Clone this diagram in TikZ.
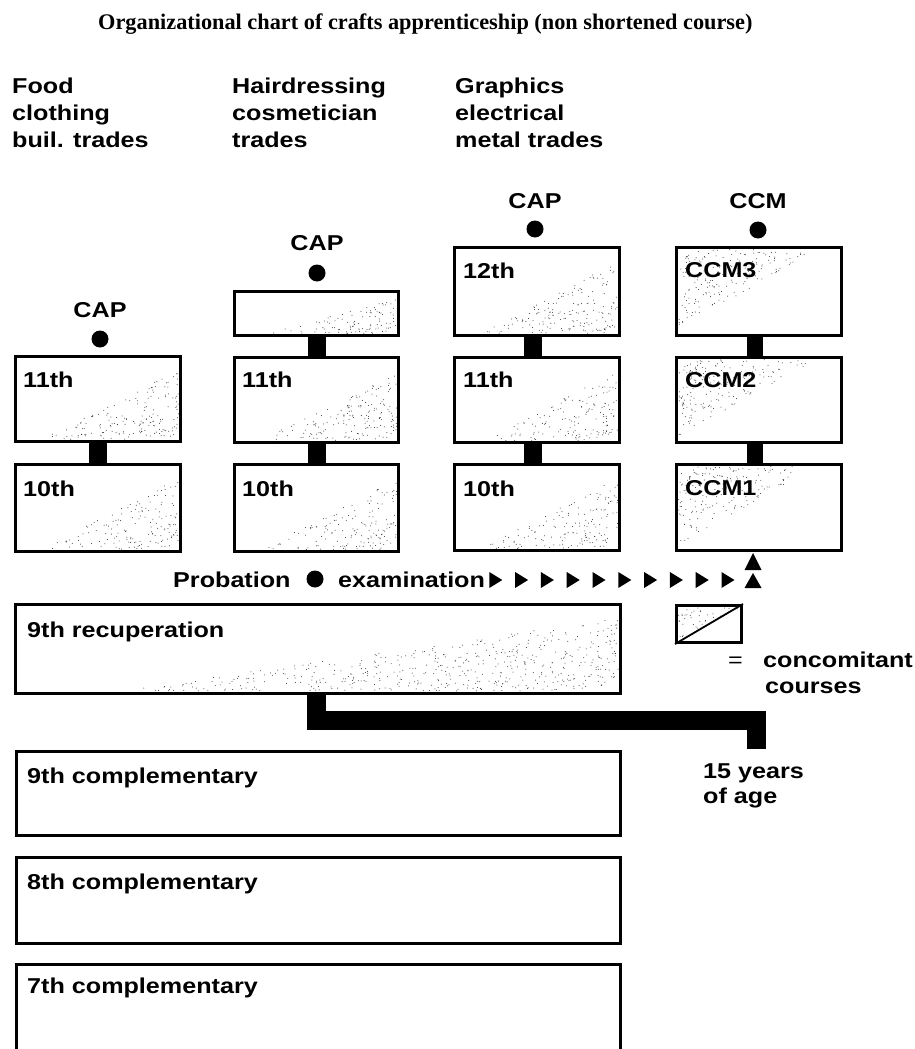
\documentclass[tikz,border=0pt]{standalone}
\usepackage{fontspec}
\setmainfont{Liberation Sans}[FakeStretch=1.17]
\newfontfamily\tmfont{Liberation Serif}
\tikzset{
  box/.style={draw, line width=2.8pt, inner sep=0pt, rectangle},
  bar/.style={draw, line width=18pt, line cap=butt, line join=miter},
  lbl/.style={font=\fontsize{21.5}{26}\selectfont\bfseries, inner sep=0pt, anchor=base west},
  clbl/.style={font=\fontsize{21.5}{26}\selectfont\bfseries, inner sep=0pt, anchor=base},
  capdot/.style={circle, fill, inner sep=0pt, minimum size=17pt},
}
\newcommand\mkbox[5]{%
  \pgfmathsetmacro\bw{#4-#2-2.8}%
  \pgfmathsetmacro\bh{#5-#3-2.8}%
  \node[box, minimum width=\bw pt, minimum height=\bh pt] (#1) at ({(#2+#4)/2},{(#3+#5)/2}) {};}
% random specks in triangle A B C, denser at corner B
\newcommand\stip[7]{%
  \foreach \k in {1,...,#7}{%
    \pgfmathsetmacro\stR{(0.02+0.98*rnd)^0.58}%
    \pgfmathsetmacro\stT{rnd}%
    \pgfmathsetmacro\stX{#3+\stR*\stT*(#1-#3)+\stR*(1-\stT)*(#5-#3)}%
    \pgfmathsetmacro\stY{#4+\stR*\stT*(#2-#4)+\stR*(1-\stT)*(#6-#4)}%
    \fill[black!80] (\stX,\stY) circle[radius=0.5];
  }}
\newcommand\stLR[5]{%
  \pgfmathsetmacro\sAx{#1+3+0.15*(#3-#1-6)}%
  \pgfmathsetmacro\sCy{#2+3+0.15*(#4-#2-6)}%
  \pgfmathsetmacro\sBx{#3-3.5}%
  \pgfmathsetmacro\sBy{#4-3.5}%
  \stip{\sAx}{\sBy}{\sBx}{\sBy}{\sBx}{\sCy}{#5}}
\newcommand\stUL[5]{%
  \pgfmathsetmacro\sAx{#1+3+0.85*(#3-#1-6)}%
  \pgfmathsetmacro\sCy{#2+3+0.95*(#4-#2-6)}%
  \pgfmathsetmacro\sBx{#1+3.5}%
  \pgfmathsetmacro\sBy{#2+3.5}%
  \stip{\sAx}{\sBy}{\sBx}{\sBy}{\sBx}{\sCy}{#5}}
\begin{document}
\begin{tikzpicture}[x=1pt,y=-1pt]
\pgfmathsetseed{4242}
\useasboundingbox (0,0) rectangle (915,1049);
\fill[white] (0,0) rectangle (915,1049);
\clip (0,0) rectangle (915,1049);

% title
\node[font=\tmfont\bfseries\fontsize{22.3}{26}\selectfont, inner sep=0pt, anchor=base west] (title) at (98,30)
  {Organizational chart of crafts apprenticeship (non shortened course)};

% trade headings
\node[lbl] (h1a) at (12,93) {Food};
\node[lbl] (h1b) at (12,120) {clothing};
\node[lbl] (h1c) at (12,147) {buil. trades};
\node[lbl] (h2a) at (232,93) {Hairdressing};
\node[lbl] (h2b) at (232,120) {cosmetician};
\node[lbl] (h2c) at (232,147) {trades};
\node[lbl] (h3a) at (455,93) {Graphics};
\node[lbl] (h3b) at (455,120) {electrical};
\node[lbl] (h3c) at (455,147) {metal trades};

% stipple
\stLR{14}{355}{182}{443}{170}
\stLR{14}{463}{182}{553}{150}
\stLR{233}{290}{400}{337}{100}
\stLR{233}{356}{400}{444}{170}
\stLR{233}{463}{400}{553}{150}
\stLR{453}{246}{621}{337}{170}
\stLR{453}{356}{621}{444}{150}
\stLR{453}{463}{621}{552}{150}
\stUL{675}{246}{843}{337}{180}
\stUL{675}{356}{843}{444}{180}
\stUL{675}{463}{843}{552}{180}
\stip{120}{691}{618.5}{691}{618.5}{618}{520}
\stip{740}{607.5}{678.5}{607.5}{678.5}{640}{35}

% boxes
\mkbox{c1b}{14}{355}{182}{443}
\mkbox{c1c}{14}{463}{182}{553}
\mkbox{c2a}{233}{290}{400}{337}
\mkbox{c2b}{233}{356}{400}{444}
\mkbox{c2c}{233}{463}{400}{553}
\mkbox{c3a}{453}{246}{621}{337}
\mkbox{c3b}{453}{356}{621}{444}
\mkbox{c3c}{453}{463}{621}{552}
\mkbox{c4a}{675}{246}{843}{337}
\mkbox{c4b}{675}{356}{843}{444}
\mkbox{c4c}{675}{463}{843}{552}
\mkbox{rec}{14}{603}{622}{695}
\mkbox{comp9}{15}{750}{622}{837}
\mkbox{comp8}{15}{856}{622}{945}
\mkbox{comp7}{15}{963}{622}{1090}
\mkbox{leg}{675}{604}{743}{644}
\draw[line width=1.8pt] (leg.south west) -- (leg.north east);

% box labels
\node[lbl] (l1b) at (23,387) {11th};
\node[lbl] (l1c) at (23,496) {10th};
\node[lbl] (l2b) at (242,387) {11th};
\node[lbl] (l2c) at (242,496) {10th};
\node[lbl] (l3a) at (463,278) {12th};
\node[lbl] (l3b) at (463,387) {11th};
\node[lbl] (l3c) at (463,496) {10th};
\node[lbl] (l4a) at (685,277) {CCM3};
\node[lbl] (l4b) at (685,387) {CCM2};
\node[lbl] (l4c) at (685,495) {CCM1};
\node[lbl] (lrec) at (27,637) {9th recuperation};
\node[lbl] (l9) at (27,783) {9th complementary};
\node[lbl] (l8) at (27,889) {8th complementary};
\node[lbl] (l7) at (27,993) {7th complementary};

% CAP / CCM diplomas
\node[clbl] (cap1) at (100,317) {CAP};
\node[capdot] (d1) at (100,339) {};
\node[clbl] (cap2) at (317,250) {CAP};
\node[capdot] (d2) at (317,273) {};
\node[clbl] (cap3) at (535,208) {CAP};
\node[capdot] (d3) at (535,229) {};
\node[clbl] (cap4) at (758,208) {CCM};
\node[capdot] (d4) at (758,230) {};

% connectors between years
\draw[bar] (c1b.south) -- (c1c.north);
\draw[bar] (c2a.south) -- (c2b.north);
\draw[bar] (c2b.south) -- (c2c.north);
\draw[bar] ([xshift=-4pt]c3a.south) -- ([xshift=-4pt]c3b.north);
\draw[bar] ([xshift=-4pt]c3b.south) -- ([xshift=-4pt]c3c.north);
\draw[bar, line width=16pt] ([xshift=-4pt]c4a.south) -- ([xshift=-4pt]c4b.north);
\draw[bar, line width=16pt] ([xshift=-4pt]c4b.south) -- ([xshift=-4pt]c4c.north);

% probation examination
\node[lbl] (prob) at (173,587) {Probation};
\node[capdot] (pdot) at (315,579) {};
\node[lbl] (exam) at (338,587) {examination};
\foreach \i in {0,...,9}
  \fill ({489.3+25.8*\i},572) -- ++(13,8) -- ++(-13,8) -- cycle;
\fill (744.5,570) -- (761.5,570) -- (753,553) -- cycle;
\fill (744.5,588) -- (761.5,588) -- (753,573) -- cycle;

% 15 years of age connector
\coordinate (age) at (756.5,749);
\draw[bar, line width=19pt] ([xshift=-2pt]rec.south) -- ++(0,25) -| (age);
\node[lbl] (a1) at (703,778) {15 years};
\node[lbl] (a2) at (703,803) {of age};

% legend
\node[font=\fontsize{21.5}{26}\selectfont, inner sep=0pt, anchor=base] (eq) at (735.5,667) {=};
\node[lbl] (cc1) at (763,667) {concomitant};
\node[lbl] (cc2) at (765,693) {courses};
\end{tikzpicture}
\end{document}
